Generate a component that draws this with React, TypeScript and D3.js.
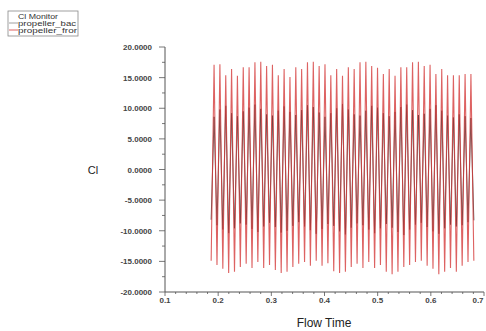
import React from "react";
import * as d3 from "d3";

// ---- data ----
const startTime = 0.1868;
const halfPeriod = 0.00549;

const frontPeaks = [17.1, 17.2, 15.4, 16.4, 15.3, 16.7, 16.7, 17.5, 17.6, 16.9, 17.1, 15.4, 16.4, 15.1, 16.7,
  16.4, 17.5, 17.6, 16.9, 17.2, 15.4, 16.4, 15.3, 16.7, 16.4, 17.5, 17.6, 16.9, 16.6, 15.6,
  16.4, 15.3, 16.7, 16.7, 17.5, 17.6, 16.9, 17.1, 15.6, 16.4, 15.4, 15.4, 15.4, 15.6, 15.6];
const frontTroughs = [-14.9, -15.6, -16.2, -16.9, -16.7, -15.9, -15.4, -16.1, -15.1, -16.1, -15.6, -16.4, -16.9, -16.7, -15.9,
  -15.4, -15.1, -15.7, -14.9, -15.7, -15.3, -16.6, -16.9, -16.7, -15.9, -15.4, -16.1, -15.1, -16.1, -15.6,
  -16.7, -17.1, -16.7, -15.9, -15.6, -15.1, -14.9, -15.7, -16.2, -17.1, -16.7, -16.1, -16.7, -15.7, -15.1, -14.9];

const backPeaks = [8.6, 9.8, 10.4, 9.2, 8.7, 9.5, 10.1, 10.6, 9.9, 9.0, 8.8, 9.6, 10.3, 9.4, 8.9,
  9.7, 10.5, 10.2, 9.3, 8.6, 9.2, 10.0, 10.7, 9.8, 9.0, 8.8, 9.6, 10.4, 10.1, 9.2,
  8.7, 9.4, 10.2, 10.6, 9.7, 8.9, 9.1, 9.9, 10.5, 9.6, 8.8, 8.5, 9.0, 8.7, 8.4];
const backTroughs = [-8.2, -9.1, -9.8, -10.4, -9.6, -8.8, -9.0, -9.7, -10.2, -9.3, -8.7, -9.4, -10.3, -10.0, -9.2,
  -8.6, -9.3, -9.9, -10.5, -9.7, -8.9, -9.2, -10.1, -10.6, -9.5, -8.8, -9.1, -9.8, -10.4, -9.6,
  -8.9, -9.5, -10.2, -10.7, -9.8, -9.0, -8.7, -9.4, -10.1, -10.5, -9.6, -9.0, -9.3, -9.1, -8.6, -8.3];

const xTicks = [0.1, 0.2, 0.3, 0.4, 0.5, 0.6, 0.7];
const yTicks = [-20, -15, -10, -5, 0, 5, 10, 15, 20];
const seriesNames = ["propeller_bac", "propeller_fror"];
const seriesColors = ["#2a2a2a", "#d43b3b"];

function buildSeries(troughs: number[], peaks: number[]) {
  const pts: [number, number][] = [];
  for (let i = 0; i < troughs.length; i++) {
    pts.push([startTime + 2 * i * halfPeriod, troughs[i]]);
    if (i < peaks.length) pts.push([startTime + (2 * i + 1) * halfPeriod, peaks[i]]);
  }
  return pts;
}

export default function App() {
  const W = 486, H = 331;
  const x = d3.scaleLinear().domain([0.1, 0.7]).range([165, 484]);
  const y = d3.scaleLinear().domain([-20, 20]).range([292, 47]);
  const line = d3.line<[number, number]>().x(d => x(d[0])).y(d => y(d[1]));
  const back = buildSeries(backTroughs, backPeaks);
  const front = buildSeries(frontTroughs, frontPeaks);
  const xMinor = d3.range(0.1, 0.7001, 0.02);
  const yMinor = d3.range(-20, 20.001, 2.5);
  const axisColor = "#555";
  const font = "Arial, 'Liberation Sans', sans-serif";

  return (
    <svg width={W} height={H} style={{ position: "absolute", left: 0, top: 0, background: "#fff" }}>
      {/* legend */}
      <g fontFamily={font} fill="#333">
        <rect x={8} y={11} width={70} height={25} fill="none" stroke="#888" strokeWidth={0.8} />
        <text x={18} y={19} fontSize={10} transform="translate(0,19) scale(1,0.8) translate(0,-19)" textLength={40} lengthAdjust="spacingAndGlyphs">Cl Monitor</text>
        <text x={18} y={26} fontSize={10} transform="translate(0,26) scale(1,0.75) translate(0,-26)" textLength={58} lengthAdjust="spacingAndGlyphs">{seriesNames[0]}</text>
        <text x={18} y={33} fontSize={10} transform="translate(0,33) scale(1,0.75) translate(0,-33)" textLength={59} lengthAdjust="spacingAndGlyphs">{seriesNames[1]}</text>
        <line x1={9} x2={18} y1={23} y2={23} stroke="#888" strokeWidth={0.8} />
        <line x1={9} x2={18} y1={30} y2={30} stroke={seriesColors[1]} strokeWidth={0.8} />
      </g>

      {/* axes */}
      <line x1={165} x2={165} y1={y(20)} y2={y(-20)} stroke={axisColor} strokeWidth={1} />
      <line x1={165} x2={484} y1={y(-20)} y2={y(-20)} stroke={axisColor} strokeWidth={1} />
      {yMinor.map((v, i) => (
        <line key={"ym" + i} x1={165 - (Math.abs(v % 5) < 1e-6 ? 6 : 3)} x2={165} y1={y(v)} y2={y(v)} stroke={axisColor} strokeWidth={0.8} />
      ))}
      {xMinor.map((v, i) => (
        <line key={"xm" + i} x1={x(v)} x2={x(v)} y1={y(-20)} y2={y(-20) + (i % 5 === 0 ? 4 : 2)} stroke={axisColor} strokeWidth={0.8} />
      ))}
      {yTicks.map(v => (
        <text key={"yt" + v} x={152} y={y(v) + 3} fontSize={8} fontFamily={font} fontWeight="bold" fill="#444" textAnchor="end">
          {v.toFixed(4)}
        </text>
      ))}
      {xTicks.map(v => (
        <text key={"xt" + v} x={Math.min(x(v), 478)} y={303} fontSize={8} fontFamily={font} fontWeight="bold" fill="#444" textAnchor="middle">
          {v.toFixed(1)}
        </text>
      ))}
      <text x={93} y={174} fontSize={11} fontFamily={font} fill="#222" textAnchor="middle">Cl</text>
      <text x={324} y={327} fontSize={12} fontFamily={font} fill="#222" textAnchor="middle">Flow Time</text>

      {/* series */}
      <path d={line(back) || ""} fill="none" stroke={seriesColors[0]} strokeWidth={0.9} strokeOpacity={0.85} />
      <path d={line(front) || ""} fill="none" stroke={seriesColors[1]} strokeWidth={1.1} strokeOpacity={0.8} />
    </svg>
  );
}
